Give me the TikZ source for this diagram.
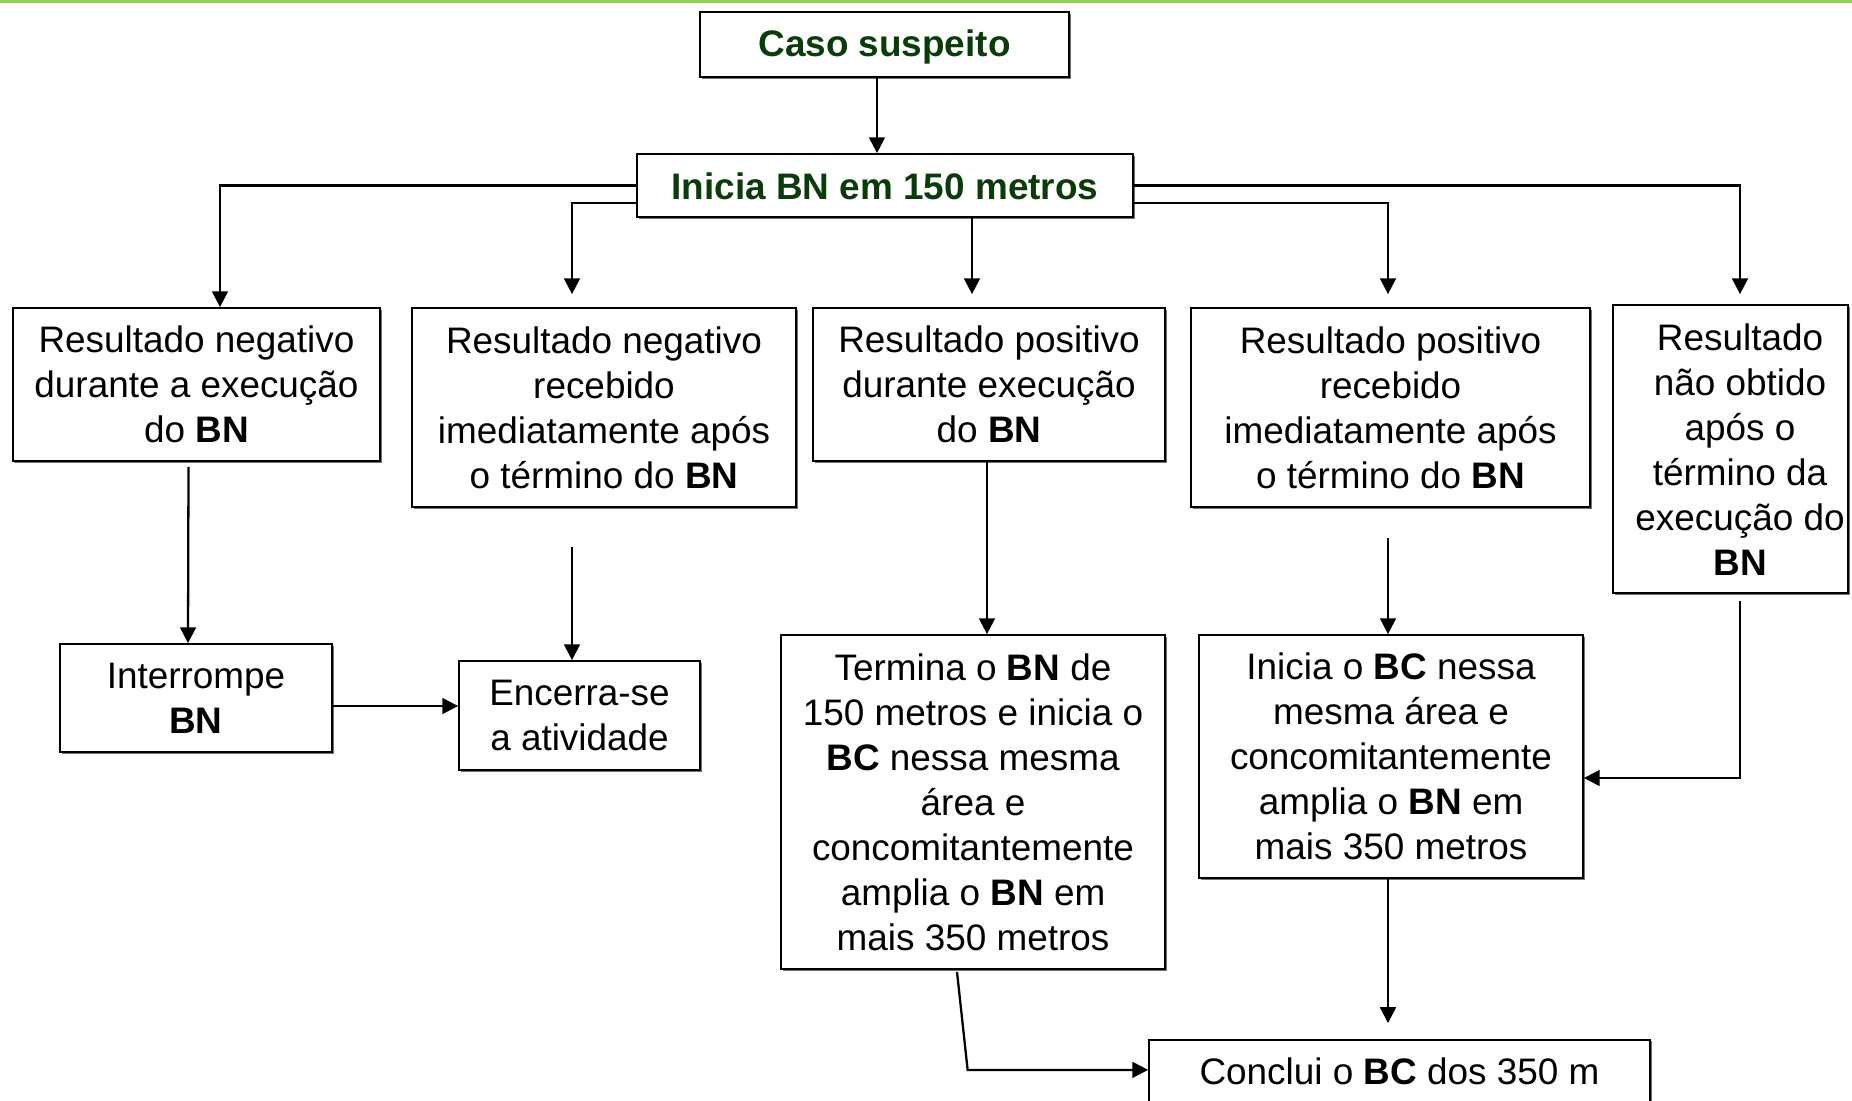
\documentclass[tikz,border=0pt]{standalone}
\usepackage{fontspec}
\setmainfont{Liberation Sans}
\usetikzlibrary{arrows.meta,shadows}
\definecolor{ttlgreen}{RGB}{10,60,10}
\definecolor{topgreen}{RGB}{146,208,80}
\def\px{0.02cm}
\begin{document}
\begin{tikzpicture}[x=0.02cm,y=-0.02cm,
  box/.style 2 args={draw=black, line width=1pt, fill=white,
    minimum width=#1*0.02cm, minimum height=#2*0.02cm, inner sep=0pt,
    align=center, font=\fontsize{21}{25.6}\selectfont,
    drop shadow={shadow xshift=0.03cm, shadow yshift=-0.03cm, fill=black!55, opacity=1}},
  ttl/.style={font=\bfseries\fontsize{21}{25.6}\selectfont, text=ttlgreen},
  arr/.style={line width=1.3pt, -{Triangle[length=9pt,width=9pt]}},
  ln/.style={line width=1.3pt}
]
\useasboundingbox (0,0) rectangle (1852,1100);
\clip (0,0) rectangle (1852,1100);
\fill[topgreen] (0,0) rectangle (1852,3);

% nodes
\node[box={369}{65}, ttl] (caso) at (884.5,44.5) {\raisebox{-1.5pt}[\height][\depth]{Caso suspeito}};
\node[box={496}{63}, ttl] (inicia) at (885,185.5) {\raisebox{-0.7pt}[\height][\depth]{Inicia BN em 150 metros}};

\node[box={367}{153}] (r1) at (196.5,384.5) {Resultado negativo\\durante a execução\\do \textbf{BN}};
\node[box={384}{199}] (r2) at (604,407.5) {Resultado negativo\\recebido\\imediatamente após\\o término do \textbf{BN}};
\node[box={352}{153}] (r3) at (989,384.5) {Resultado positivo\\durante execução\\do \textbf{BN}};
\node[box={399}{199}] (r4) at (1390.5,407.5) {Resultado positivo\\recebido\\imediatamente após\\o término do \textbf{BN}};
\node[box={235}{288}] (r5) at (1730.5,449) {\raisebox{-3pt}[\height][\depth]{\begin{tabular}{@{\hspace{0.38cm}}c@{}}Resultado\\não obtido\\após o\\término da\\execução do\\\textbf{BN}\end{tabular}}};

\node[box={272}{108}] (r6) at (196,698) {Interrompe\\\textbf{BN}};
\node[box={241}{109}] (r7) at (579.5,715.5) {Encerra-se\\a atividade};
\node[box={384}{334}] (r8) at (973,802) {Termina o \textbf{BN} de\\150 metros e inicia o\\\textbf{BC} nessa mesma\\área e\\concomitantemente\\amplia o \textbf{BN} em\\mais 350 metros};
\node[box={384}{243}] (r9) at (1391,756.5) {Inicia o \textbf{BC} nessa\\mesma área e\\concomitantemente\\amplia o \textbf{BN} em\\mais 350 metros};
\node[box={501}{71}, anchor=north] (r10) at (1399.5,1039) {\raisebox{5pt}{Conclui o \textbf{BC} dos 350 m}};

% connectors
\draw[arr] ([xshift=-7.5*\px]caso.south) -- ([xshift=-8*\px]inicia.north);
\draw[arr] (inicia.west) -| ([xshift=23.5*\px]r1.north);
\draw[arr] ([yshift=-17.5*\px]inicia.west) -| ([xshift=-32*\px,yshift=13*\px]r2.north);
\draw[arr] ([xshift=87*\px]inicia.south) -- ([xshift=-17*\px,yshift=13*\px]r3.north);
\draw[arr] ([yshift=-17.5*\px]inicia.east) -| ([xshift=-2.5*\px,yshift=13*\px]r4.north);
\draw[arr] (inicia.east) -| ([xshift=9.5*\px,yshift=10*\px]r5.north);

\draw[arr] ([xshift=-8*\px,yshift=-5*\px]r1.south) -- ([xshift=-8*\px]r6.north);
\draw[arr] ([xshift=-32*\px,yshift=-39*\px]r2.south) -- ([xshift=-7.5*\px]r7.north);
\draw[arr] ([yshift=-8*\px]r6.east) -- ([yshift=9.5*\px]r7.west);
\draw[arr] ([xshift=-2*\px]r3.south) -- ([xshift=14*\px]r8.north);
\draw[arr] ([xshift=-2.5*\px,yshift=-30*\px]r4.south) -- ([xshift=-3*\px]r9.north);
\draw[arr] ([xshift=9.5*\px,yshift=-7*\px]r5.south) |- ([yshift=-21.5*\px]r9.east);
\draw[arr] ([xshift=-16*\px,yshift=-2*\px]r8.south) -- ([xshift=-180.5*\px,yshift=5.5*\px]r10.west) -- ([yshift=5.5*\px]r10.west);
\draw[arr] ([xshift=-3*\px]r9.south) -- ([xshift=-11.5*\px,yshift=16*\px]r10.north);
\end{tikzpicture}
\end{document}
